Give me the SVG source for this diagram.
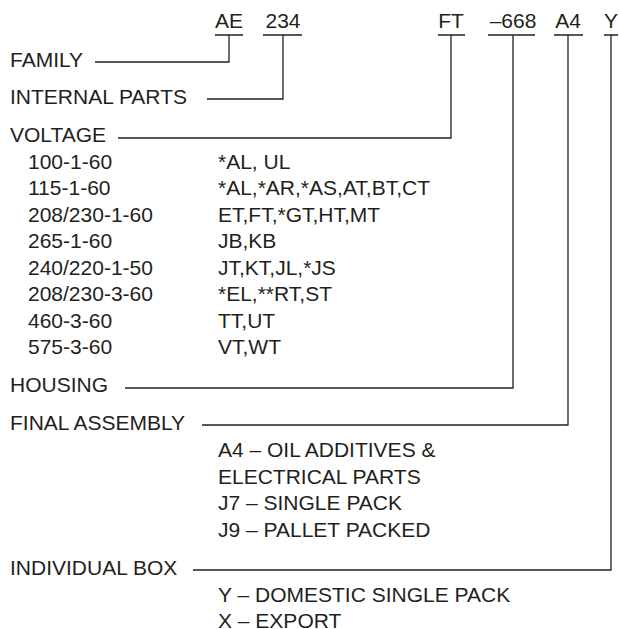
<svg xmlns="http://www.w3.org/2000/svg" width="619" height="629" viewBox="0 0 619 629">
<style>
text{font-family:"Liberation Sans",Arial,sans-serif;font-size:21px;fill:#231f20}
.c{text-anchor:middle}
.ln{fill:none;stroke:#231f20;stroke-width:1.3}
</style>
<rect width="619" height="629" fill="#fff"/>
<g id="code">
<text class="c" x="229" y="28">AE</text>
<text class="c" x="283" y="28">234</text>
<text class="c" x="451" y="28">FT</text>
<text class="c" x="513" y="28">–668</text>
<text class="c" x="568" y="28">A4</text>
<text class="c" x="611" y="28">Y</text>
</g>
<g id="family"><text x="10" y="67">FAMILY</text></g>
<g id="internal"><text x="10" y="104">INTERNAL PARTS</text></g>
<g id="voltage">
<text x="10" y="142">VOLTAGE</text>
<text x="28" y="168.5">100-1-60</text><text x="218" y="168.5">*AL, UL</text>
<text x="28" y="195">115-1-60</text><text x="218" y="195">*AL,*AR,*AS,AT,BT,CT</text>
<text x="28" y="221.5">208/230-1-60</text><text x="218" y="221.5">ET,FT,*GT,HT,MT</text>
<text x="28" y="248">265-1-60</text><text x="218" y="248">JB,KB</text>
<text x="28" y="274.5">240/220-1-50</text><text x="218" y="274.5">JT,KT,JL,*JS</text>
<text x="28" y="301">208/230-3-60</text><text x="218" y="301">*EL,**RT,ST</text>
<text x="28" y="327.5">460-3-60</text><text x="218" y="327.5">TT,UT</text>
<text x="28" y="354">575-3-60</text><text x="218" y="354">VT,WT</text>
</g>
<g id="housing"><text x="10" y="392">HOUSING</text></g>
<g id="final">
<text x="10" y="430">FINAL ASSEMBLY</text>
<text x="218" y="457">A4 – OIL ADDITIVES &amp;</text>
<text x="218" y="483.5">ELECTRICAL PARTS</text>
<text x="218" y="510">J7 – SINGLE PACK</text>
<text x="218" y="536.5">J9 – PALLET PACKED</text>
</g>
<g id="box">
<text x="10" y="575">INDIVIDUAL BOX</text>
<text x="218" y="602">Y – DOMESTIC SINGLE PACK</text>
<text x="218" y="627.5">X – EXPORT</text>
</g>
<g id="connectors" class="ln">
<path d="M215 35H243M263 35H302M438 35H465M488 35H535M554 35H583M604 35H618"/>
<path d="M95 62H229V35"/>
<path d="M207 99H283V35"/>
<path d="M118 138H451V35"/>
<path d="M125 388H513V35"/>
<path d="M202 425H568V35"/>
<path d="M193 570H611V35"/>
</g>
</svg>
